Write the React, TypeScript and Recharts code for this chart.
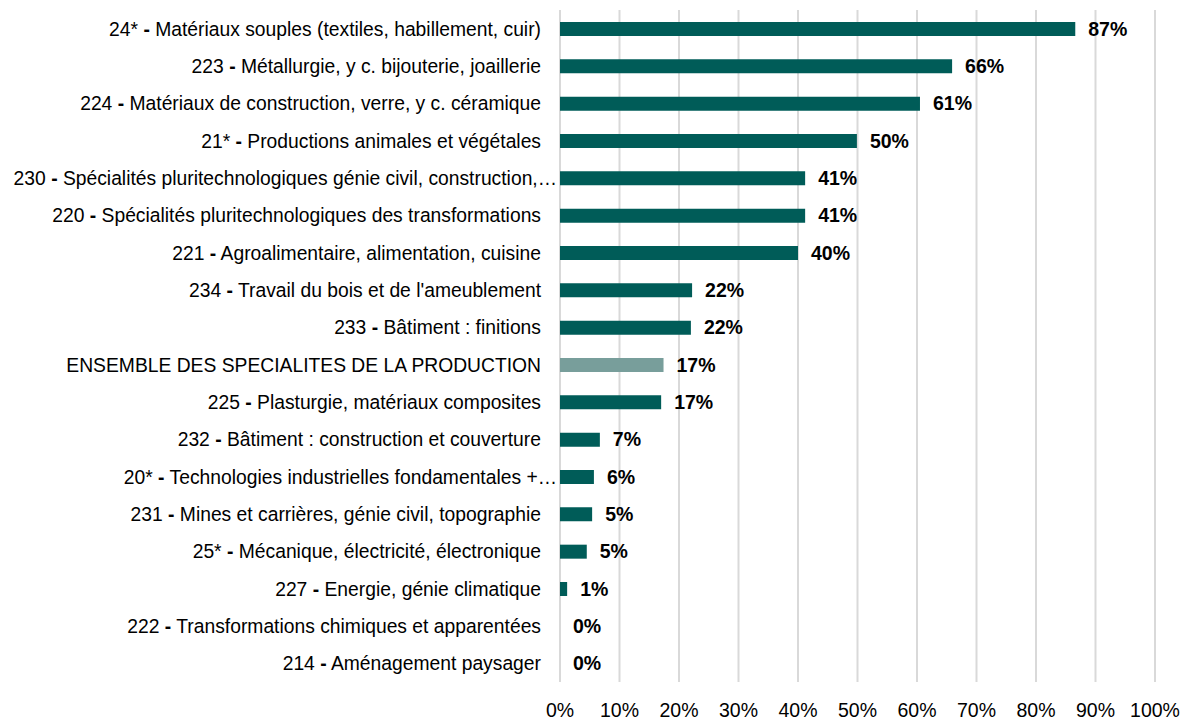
import React from 'react';
import { ComposedChart, Bar, Scatter, XAxis, YAxis, CartesianGrid, Cell } from 'recharts';

const codes = ['24*', '223', '224', '21*', '230', '220', '221', '234', '233', '', '225', '232', '20*', '231', '25*', '227', '222', '214'];
const names = [
  'Matériaux souples (textiles, habillement, cuir)',
  'Métallurgie, y c. bijouterie, joaillerie',
  'Matériaux de construction, verre, y c. céramique',
  'Productions animales et végétales',
  'Spécialités pluritechnologiques génie civil, construction,…',
  'Spécialités pluritechnologiques des transformations',
  'Agroalimentaire, alimentation, cuisine',
  "Travail du bois et de l'ameublement",
  'Bâtiment : finitions',
  'ENSEMBLE DES SPECIALITES DE LA PRODUCTION',
  'Plasturgie, matériaux composites',
  'Bâtiment : construction et couverture',
  'Technologies industrielles fondamentales +…',
  'Mines et carrières, génie civil, topographie',
  'Mécanique, électricité, électronique',
  'Energie, génie climatique',
  'Transformations chimiques et apparentées',
  'Aménagement paysager',
];
const values = [86.6, 65.9, 60.5, 49.9, 41.2, 41.2, 40.0, 22.2, 22.0, 17.4, 17.0, 6.7, 5.7, 5.4, 4.5, 1.2, 0, 0];
const ticks = [0, 10, 20, 30, 40, 50, 60, 70, 80, 90, 100];

const data = names.map((n, i) => ({ key: String(i), code: codes[i], name: n, value: values[i] }));

const FONT = '"Liberation Sans Narrow", "Arial Narrow", "Liberation Sans", Arial, sans-serif';
const DARK = '#005c58';
const LIGHT = '#789e9b';

const CategoryTick = (props: any) => {
  const { x, y, payload } = props;
  const row = data[Number(payload.value)];
  // truncated labels run up to the bars, like in the original
  const shift = row.name.endsWith('…') ? -5 : 11;
  return (
    <text x={x - shift} y={y} dy={7} textAnchor="end" fontFamily={FONT} fontSize={19.3} fill="#000">
      {row.code ? (
        <>
          <tspan>{row.code} </tspan>
          <tspan fontWeight="bold">-</tspan>
          <tspan> {row.name}</tspan>
        </>
      ) : (
        <tspan>{row.name}</tspan>
      )}
    </text>
  );
};

// value labels drawn at the end of each bar (also for 0%)
const ValueLabel = (props: any) => {
  const { cx, cy, payload } = props;
  if (cx == null || cy == null) return null;
  return (
    <text x={cx + 13} y={cy} dy={7} textAnchor="start" fontFamily={FONT} fontSize={19.5} fontWeight="bold" fill="#000">
      {`${Math.round(payload.value)}%`}
    </text>
  );
};

export default function App() {
  return (
    <div style={{ position: 'absolute', left: 0, top: 0, width: 1181, height: 721, background: '#fff' }}>
      <ComposedChart
        width={1181}
        height={721}
        data={data}
        layout="vertical"
        margin={{ top: 10, right: 26, left: 0, bottom: 0 }}
      >
        <CartesianGrid horizontal={false} stroke="#d9d9d9" strokeWidth={2} />
        <XAxis
          type="number"
          domain={[0, 100]}
          ticks={ticks}
          tickFormatter={(v: number) => `${v}%`}
          axisLine={false}
          tickLine={false}
          height={39}
          tickMargin={15}
          tick={{ fontFamily: FONT, fontSize: 19.5, fill: '#000' }}
        />
        <YAxis
          type="category"
          dataKey="key"
          width={560}
          axisLine={false}
          tickLine={false}
          interval={0}
          tick={<CategoryTick />}
        />
        <Bar dataKey="value" barSize={14} isAnimationActive={false}>
          {data.map((d, i) => (
            <Cell key={i} fill={d.code ? DARK : LIGHT} />
          ))}
        </Bar>
        <Scatter dataKey="value" isAnimationActive={false} shape={<ValueLabel />} />
      </ComposedChart>
    </div>
  );
}
